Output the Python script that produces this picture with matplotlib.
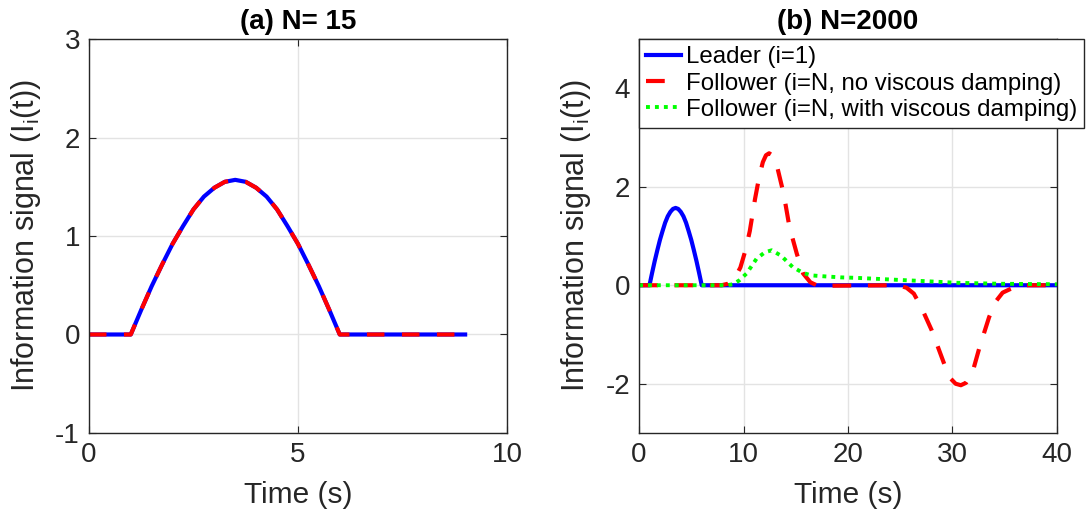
import numpy as np
import matplotlib
matplotlib.use('Agg')
import matplotlib.pyplot as plt

plt.rcParams['font.family'] = ['Liberation Sans', 'DejaVu Sans']
plt.rcParams['mathtext.default'] = 'regular'
plt.rcParams['axes.unicode_minus'] = False

# (a) N=15 : leader and follower overlap
t_a = [0, 1.0, 1.25, 1.5, 1.75, 2.0, 2.25, 2.5, 2.75, 3.0, 3.25, 3.5, 3.75, 4.0,
       4.25, 4.5, 4.75, 5.0, 5.25, 5.5, 5.75, 6.0, 9.0]
lead_a = [0, 0, 0.25, 0.49, 0.71, 0.92, 1.10, 1.27, 1.40, 1.49, 1.55, 1.57, 1.55, 1.49,
          1.40, 1.27, 1.10, 0.92, 0.71, 0.49, 0.25, 0, 0]
foll_a = [0, 0, 0.25, 0.49, 0.71, 0.92, 1.10, 1.27, 1.40, 1.49, 1.55, 1.57, 1.55, 1.49,
          1.40, 1.27, 1.10, 0.92, 0.71, 0.49, 0.25, 0, 0]

# (b) N=2000
t_lead = [0, 1.0, 1.25, 1.5, 1.75, 2.0, 2.25, 2.5, 2.75, 3.0, 3.25, 3.5, 3.75, 4.0,
          4.25, 4.5, 4.75, 5.0, 5.25, 5.5, 5.75, 6.0, 40.0]
lead_b = [0, 0, 0.25, 0.49, 0.71, 0.92, 1.10, 1.27, 1.40, 1.49, 1.55, 1.57, 1.55, 1.49,
          1.40, 1.27, 1.10, 0.92, 0.71, 0.49, 0.25, 0, 0]

t_nodamp = [0, 7.9, 8.5, 9.1, 9.7, 10.2, 10.6, 11.1, 11.5, 11.85, 12.15, 12.45, 12.75, 13.25,
            13.85, 14.4, 15.1, 15.7, 16.4, 17.0, 17.6, 24.8, 25.6, 26.3, 27.0, 28.0, 28.6,
            29.3, 29.8, 30.3, 30.8, 31.3, 31.9, 32.6, 33.5, 34.1, 34.8, 35.5, 36.2, 36.9, 40.0]
nodamp = [0, 0, 0.03, 0.12, 0.36, 0.72, 1.1, 1.75, 2.2, 2.5, 2.64, 2.68, 2.64, 2.38,
          1.85, 1.18, 0.64, 0.24, 0.06, 0.0, -0.01, 0, -0.05, -0.17, -0.44, -0.91, -1.25,
          -1.65, -1.89, -2.0, -2.03, -1.98, -1.78, -1.25, -0.65, -0.34, -0.15, -0.08, -0.02, 0, 0]

t_damp = [0, 8.4, 9.0, 9.6, 10.3, 11.25, 12.05, 12.7, 13.6, 14.7, 15.7, 16.5, 17.8, 19.3,
          20.85, 24.7, 27.7, 30.4, 34.6, 40.0]
damp = [0, 0, 0.02, 0.1, 0.24, 0.54, 0.67, 0.71, 0.6, 0.37, 0.25, 0.2, 0.18, 0.16,
        0.15, 0.11, 0.08, 0.05, 0.03, 0.02]

fig = plt.figure(figsize=(10.89, 5.14), dpi=100)
ax1 = fig.add_axes([0.0817, 0.1576, 0.3838, 0.7665])
ax2 = fig.add_axes([0.5868, 0.1576, 0.3838, 0.7665])

dk = '#262626'
blue, red, green = '#0000ff', '#ff0000', '#00ff00'

ax1.plot(t_a, lead_a, color=blue, lw=3)
ax1.plot(t_a, foll_a, color=red, lw=3, dashes=(4.2, 4.2))

ax2.plot(t_lead, lead_b, color=blue, lw=3, label='Leader (i=1)')
ax2.plot(t_nodamp, nodamp, color=red, lw=3, dashes=(4.5, 4),
         label='Follower (i=N, no viscous damping)')
ax2.plot(t_damp, damp, color=green, lw=2.8, dashes=(1, 1.3),
         label='Follower (i=N, with viscous damping)')

ax1.set_xlim(0, 10)
ax1.set_ylim(-1, 3)
ax1.set_xticks([0, 5, 10])
ax1.set_yticks([-1, 0, 1, 2, 3])
ax2.set_xlim(0, 40)
ax2.set_ylim(-3, 5)
ax2.set_xticks([0, 10, 20, 30, 40])
ax2.set_yticks([-2, 0, 2, 4])

for ax, title in [(ax1, '(a) N= 15'), (ax2, '(b) N=2000')]:
    ax.grid(True, color='#e3e3e3', lw=1)
    ax.set_axisbelow(True)
    ax.tick_params(direction='in', top=True, right=True, labelsize=20,
                   colors=dk, length=5, pad=6.5)
    for s in ax.spines.values():
        s.set_color(dk)
        s.set_linewidth(1)
    ax.set_xlabel('Time (s)', fontsize=21.5, color=dk, labelpad=9)
    ax.set_ylabel('Information signal (I$_i$(t))', fontsize=22, color=dk, labelpad=9)
    ax.set_title(title, fontsize=20, fontweight='bold', pad=7)

leg = ax2.legend(loc='upper left', bbox_to_anchor=(0, 1), borderaxespad=0,
                 fontsize=17.3, fancybox=False, edgecolor=dk, framealpha=1,
                 handlelength=1.45, handletextpad=0.2, labelspacing=0.18,
                 borderpad=0.3)
leg.get_frame().set_linewidth(1)

fig.savefig('out.png', dpi=100)
